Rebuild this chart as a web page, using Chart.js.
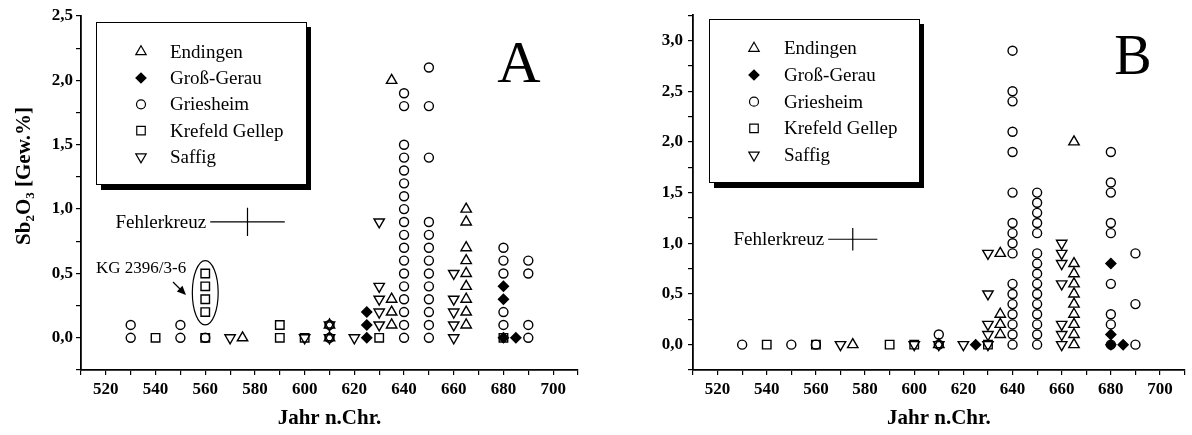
<!DOCTYPE html>
<html lang="de">
<head>
    <meta charset="UTF-8">
    <title>Sb2O3 und As2O3 nach Jahr</title>
    <script src="https://cdn.jsdelivr.net/npm/chart.js"></script>
    <style>
        body { margin: 0; background: #fff; }
        #wrap { position: relative; width: 1192px; height: 435px; }
        canvas { position: absolute; top: 0; }
    </style>
</head>
<body>
<div id="wrap">
    <canvas id="chartA" width="596" height="435" style="left:0"></canvas>
    <canvas id="chartB" width="596" height="435" style="left:596px"></canvas>
</div>

<script>
    // Fundorte (Legende)
    const seriesNames = ['Endingen', 'Groß-Gerau', 'Griesheim', 'Krefeld Gellep', 'Saffig'];

    // Diagramm A: Sb2O3 [Gew.%] – [Jahr, Wert]
    const sbEndingen = [[575, 0], [610, 0], [610, 0.1], [635, 0.1], [635, 0.2], [635, 0.3], [635, 2.0],
        [665, 0.1], [665, 0.2], [665, 0.3], [665, 0.4], [665, 0.5], [665, 0.6], [665, 0.7], [665, 0.9], [665, 1.0]];
    const sbGrossGerau = [[625, 0], [625, 0.1], [625, 0.2], [680, 0], [680, 0.3], [680, 0.4], [685, 0]];
    const sbGriesheim = [[530, 0], [530, 0.1], [550, 0], [550, 0.1], [560, 0], [610, 0], [610, 0.1],
        [640, 0], [640, 0.1], [640, 0.2], [640, 0.3], [640, 0.4], [640, 0.5], [640, 0.6], [640, 0.7], [640, 0.8],
        [640, 0.9], [640, 1.0], [640, 1.1], [640, 1.2], [640, 1.3], [640, 1.4], [640, 1.5], [640, 1.8], [640, 1.9],
        [650, 0], [650, 0.1], [650, 0.2], [650, 0.3], [650, 0.4], [650, 0.5], [650, 0.6], [650, 0.7], [650, 0.8],
        [650, 0.9], [650, 1.4], [650, 1.8], [650, 2.1],
        [680, 0.1], [680, 0.2], [680, 0.5], [680, 0.6], [680, 0.7],
        [690, 0], [690, 0.1], [690, 0.5], [690, 0.6]];
    const sbKrefeld = [[540, 0], [560, 0], [560, 0.2], [560, 0.3], [560, 0.4], [560, 0.5], [590, 0], [590, 0.1],
        [600, 0], [630, 0], [680, 0]];
    const sbSaffig = [[570, 0], [600, 0], [610, 0], [610, 0.1], [620, 0], [630, 0.1], [630, 0.2], [630, 0.3],
        [630, 0.4], [630, 0.9], [660, 0], [660, 0.1], [660, 0.2], [660, 0.3], [660, 0.5]];

    // Diagramm B: As2O3 [Gew.%]
    const asEndingen = [[575, 0], [610, 0], [635, 0.1], [635, 0.2], [635, 0.3], [635, 0.9],
        [665, 0], [665, 0.1], [665, 0.2], [665, 0.3], [665, 0.4], [665, 0.5], [665, 0.6], [665, 0.7], [665, 0.8], [665, 2.0]];
    const asGrossGerau = [[625, 0], [680, 0], [680, 0.1], [680, 0.8], [685, 0]];
    const asGriesheim = [[530, 0], [550, 0], [560, 0], [610, 0], [610, 0.1],
        [640, 0], [640, 0.1], [640, 0.2], [640, 0.3], [640, 0.4], [640, 0.5], [640, 0.6], [640, 0.9], [640, 1.0],
        [640, 1.1], [640, 1.2], [640, 1.5], [640, 1.9], [640, 2.1], [640, 2.4], [640, 2.5], [640, 2.9],
        [650, 0], [650, 0.1], [650, 0.2], [650, 0.3], [650, 0.4], [650, 0.5], [650, 0.6], [650, 0.7], [650, 0.8],
        [650, 0.9], [650, 1.1], [650, 1.2], [650, 1.3], [650, 1.4], [650, 1.5],
        [680, 0], [680, 0.2], [680, 0.3], [680, 0.6], [680, 1.1], [680, 1.2], [680, 1.5], [680, 1.6], [680, 1.9],
        [690, 0], [690, 0.4], [690, 0.9]];
    const asKrefeld = [[540, 0], [560, 0], [590, 0], [600, 0], [630, 0]];
    const asSaffig = [[570, 0], [600, 0], [610, 0], [620, 0], [630, 0], [630, 0.1], [630, 0.2], [630, 0.5], [630, 0.9],
        [660, 0], [660, 0.1], [660, 0.2], [660, 0.6], [660, 0.8], [660, 0.9], [660, 1.0]];

    // Fehlerkreuz: Mitte und halbe Breite/Hoehe
    const fehlerA = { year: 577, value: 0.9, dYear: 15, dValue: 0.11 };
    const fehlerB = { year: 575, value: 1.04, dYear: 10, dValue: 0.11 };
    // Markierung KG 2396/3-6 (Ellipse um die Proben)
    const kgEllipse = { year: 560, value: 0.35, rYear: 5.2, rValue: 0.25 };

    const SERIF = "'Liberation Serif', 'Times New Roman', serif";

    const markers = [
        { pointStyle: 'triangle', radius: 6, rotation: 0, fill: false },
        { pointStyle: 'rectRot', radius: 5, rotation: 0, fill: true },
        { pointStyle: 'circle', radius: 4.5, rotation: 0, fill: false },
        { pointStyle: 'rect', radius: 6, rotation: 0, fill: false },
        { pointStyle: 'triangle', radius: 6, rotation: 180, fill: false }
    ];

    function makeDatasets(groups) {
        return groups.map((pts, i) => {
            const m = markers[i];
            const bg = m.fill ? '#000' : 'rgba(0,0,0,0)';
            return {
                label: seriesNames[i],
                data: pts.map(p => ({ x: p[0], y: p[1] })),
                pointStyle: m.pointStyle,
                pointRadius: m.radius,
                pointHoverRadius: m.radius,
                pointRotation: m.rotation,
                borderColor: '#000',
                backgroundColor: bg,
                pointBorderColor: '#000',
                pointBackgroundColor: bg,
                pointBorderWidth: 1.4,
                borderWidth: 1.4
            };
        });
    }

    function drawMarker(ctx, m, x, y) {
        ctx.save();
        ctx.fillStyle = m.fill ? '#000' : 'rgba(0,0,0,0)';
        ctx.strokeStyle = '#000';
        ctx.lineWidth = 1.2;
        Chart.helpers.drawPoint(ctx, { pointStyle: m.pointStyle, rotation: m.rotation, radius: m.radius, borderWidth: 1.2 }, x, y);
        ctx.restore();
    }

    function drawYTitle(ctx, parts, cx, cy) {
        const big = `bold 21px ${SERIF}`, small = `bold 13px ${SERIF}`;
        let w = 0;
        parts.forEach(p => { ctx.font = p.sub ? small : big; w += ctx.measureText(p.t).width; });
        ctx.save();
        ctx.translate(cx, cy);
        ctx.rotate(-Math.PI / 2);
        ctx.fillStyle = '#000';
        ctx.textAlign = 'left';
        ctx.textBaseline = 'alphabetic';
        let x = -w / 2;
        parts.forEach(p => {
            ctx.font = p.sub ? small : big;
            ctx.fillText(p.t, x, p.sub ? 11 : 7);
            x += ctx.measureText(p.t).width;
        });
        ctx.restore();
    }

    function drawLegend(ctx, lg) {
        ctx.fillStyle = '#000';
        ctx.fillRect(lg.x + 5, lg.y + 5, lg.w, lg.h + 1);
        ctx.fillStyle = '#fff';
        ctx.fillRect(lg.x, lg.y, lg.w, lg.h);
        ctx.strokeStyle = '#000';
        ctx.lineWidth = 1;
        ctx.strokeRect(lg.x + 0.5, lg.y + 0.5, lg.w, lg.h);
        seriesNames.forEach((name, i) => {
            const yy = lg.y + lg.first + i * lg.gap;
            drawMarker(ctx, markers[i], lg.symX, yy);
            ctx.fillStyle = '#000';
            ctx.font = `19px ${SERIF}`;
            ctx.textAlign = 'left';
            ctx.textBaseline = 'middle';
            ctx.fillText(name, lg.textX, yy + 1);
        });
    }

    function drawCross(ctx, xs, ys, f) {
        const cx = xs.getPixelForValue(f.year), cy = ys.getPixelForValue(f.value);
        const x0 = xs.getPixelForValue(f.year - f.dYear), x1 = xs.getPixelForValue(f.year + f.dYear);
        const y0 = ys.getPixelForValue(f.value - f.dValue), y1 = ys.getPixelForValue(f.value + f.dValue);
        ctx.strokeStyle = '#000';
        ctx.lineWidth = 1.2;
        ctx.beginPath();
        ctx.moveTo(x0, cy); ctx.lineTo(x1, cy);
        ctx.moveTo(cx, y0); ctx.lineTo(cx, y1);
        ctx.stroke();
        ctx.fillStyle = '#000';
        ctx.font = `19px ${SERIF}`;
        ctx.textAlign = 'right';
        ctx.textBaseline = 'alphabetic';
        ctx.fillText('Fehlerkreuz', x0 - 4, cy + 6);
    }

    function makeDeco(cfg) {
        return {
            id: 'deco',
            afterDatasetsDraw(chart) {
                const ctx = chart.ctx;
                const xs = chart.scales.x, ys = chart.scales.y;
                ctx.save();
                drawYTitle(ctx, cfg.yTitle, cfg.yTitleX, cfg.yTitleY);
                drawLegend(ctx, cfg.legend);

                ctx.fillStyle = '#000';
                ctx.font = `${cfg.letter.size}px ${SERIF}`;
                ctx.textAlign = 'center';
                ctx.textBaseline = 'alphabetic';
                ctx.fillText(cfg.letter.text, cfg.letter.x, cfg.letter.y);

                drawCross(ctx, xs, ys, cfg.fehler);

                if (cfg.kg) {
                    const e = cfg.kg;
                    const ex = xs.getPixelForValue(e.year), ey = ys.getPixelForValue(e.value);
                    const rx = xs.getPixelForValue(e.year + e.rYear) - ex;
                    const ry = ey - ys.getPixelForValue(e.value + e.rValue);
                    ctx.strokeStyle = '#000';
                    ctx.lineWidth = 1.2;
                    ctx.beginPath();
                    ctx.ellipse(ex, ey, rx, ry, 0, 0, Math.PI * 2);
                    ctx.stroke();

                    ctx.font = `17px ${SERIF}`;
                    ctx.textAlign = 'left';
                    ctx.fillText('KG 2396/3-6', 96, 273);

                    // Pfeil
                    const ax0 = 173, ay0 = 282, ax1 = 186, ay1 = 295;
                    const ang = Math.atan2(ay1 - ay0, ax1 - ax0);
                    ctx.beginPath();
                    ctx.moveTo(ax0, ay0);
                    ctx.lineTo(ax1 - 6 * Math.cos(ang), ay1 - 6 * Math.sin(ang));
                    ctx.stroke();
                    ctx.beginPath();
                    ctx.moveTo(ax1, ay1);
                    ctx.lineTo(ax1 - 9 * Math.cos(ang) + 4 * Math.sin(ang), ay1 - 9 * Math.sin(ang) - 4 * Math.cos(ang));
                    ctx.lineTo(ax1 - 9 * Math.cos(ang) - 4 * Math.sin(ang), ay1 - 9 * Math.sin(ang) + 4 * Math.cos(ang));
                    ctx.closePath();
                    ctx.fill();
                }
                ctx.restore();
            }
        };
    }

    function yLabel(v) {
        const r = Math.round(v * 100) / 100;
        if (r < 0 || Math.abs(r * 2 - Math.round(r * 2)) > 1e-6) return '';
        return r.toFixed(1).replace('.', ',');
    }

    function xLabel(v) {
        const r = Math.round(v);
        return (r % 20 === 0 && r >= 520 && r <= 700) ? String(r) : '';
    }

    function makeChart(id, groups, yMax, pad, yWidth, yPad, deco) {
        return new Chart(document.getElementById(id), {
            type: 'scatter',
            data: { datasets: makeDatasets(groups) },
            options: {
                responsive: false,
                animation: false,
                events: [],
                layout: { padding: pad },
                plugins: { legend: { display: false }, tooltip: { enabled: false } },
                scales: {
                    x: {
                        type: 'linear', min: 510, max: 710,
                        ticks: {
                            stepSize: 10, autoSkip: false, maxRotation: 0, maxTicksLimit: 100, padding: 4,
                            color: '#000', font: { family: SERIF, size: 17, weight: 'bold' }, callback: xLabel
                        },
                        grid: { drawOnChartArea: false, drawTicks: true, tickLength: 5, color: '#000', lineWidth: 1.2 },
                        border: { display: true, color: '#000', width: 1.8 },
                        title: {
                            display: true, text: 'Jahr n.Chr.', color: '#000',
                            font: { family: SERIF, size: 21, weight: 'bold' }, padding: { top: 0, bottom: 4 }
                        },
                        afterFit: s => { s.height = 65; }
                    },
                    y: {
                        type: 'linear', min: -0.25, max: yMax,
                        ticks: {
                            stepSize: 0.25, autoSkip: false, maxTicksLimit: 100, padding: yPad,
                            color: '#000', font: { family: SERIF, size: 17, weight: 'bold' }, callback: yLabel
                        },
                        grid: { drawOnChartArea: false, drawTicks: true, tickLength: 5, color: '#000', lineWidth: 1.2 },
                        border: { display: true, color: '#000', width: 1.8 },
                        afterFit: s => { s.width = yWidth; }
                    }
                }
            },
            plugins: [makeDeco(deco)]
        });
    }

    makeChart('chartA', [sbEndingen, sbGrossGerau, sbGriesheim, sbKrefeld, sbSaffig], 2.5,
        { left: 0, right: 18, top: 16, bottom: 0 }, 81, 3, {
            yTitle: [{ t: 'Sb' }, { t: '2', sub: true }, { t: 'O' }, { t: '3', sub: true }, { t: ' [Gew.%]' }],
            yTitleX: 23, yTitleY: 176,
            legend: { x: 96, y: 22, w: 210, h: 162, first: 29.7, gap: 26.3, symX: 141, textX: 170 },
            letter: { text: 'A', size: 60, x: 519, y: 82 },
            fehler: fehlerA,
            kg: kgEllipse
        });

    makeChart('chartB', [asEndingen, asGrossGerau, asGriesheim, asKrefeld, asSaffig], 3.25,
        { left: 0, right: 5, top: 15, bottom: 0 }, 97, 5, {
            yTitle: [{ t: 'As' }, { t: '2', sub: true }, { t: 'O' }, { t: '3', sub: true }, { t: ' [Gew.%]' }],
            yTitleX: 635, yTitleY: 187,
            legend: { x: 113, y: 19, w: 210, h: 163, first: 29.3, gap: 26.7, symX: 158, textX: 188 },
            letter: { text: 'B', size: 56, x: 537, y: 74 },
            fehler: fehlerB,
            kg: null
        });
</script>
</body>
</html>
